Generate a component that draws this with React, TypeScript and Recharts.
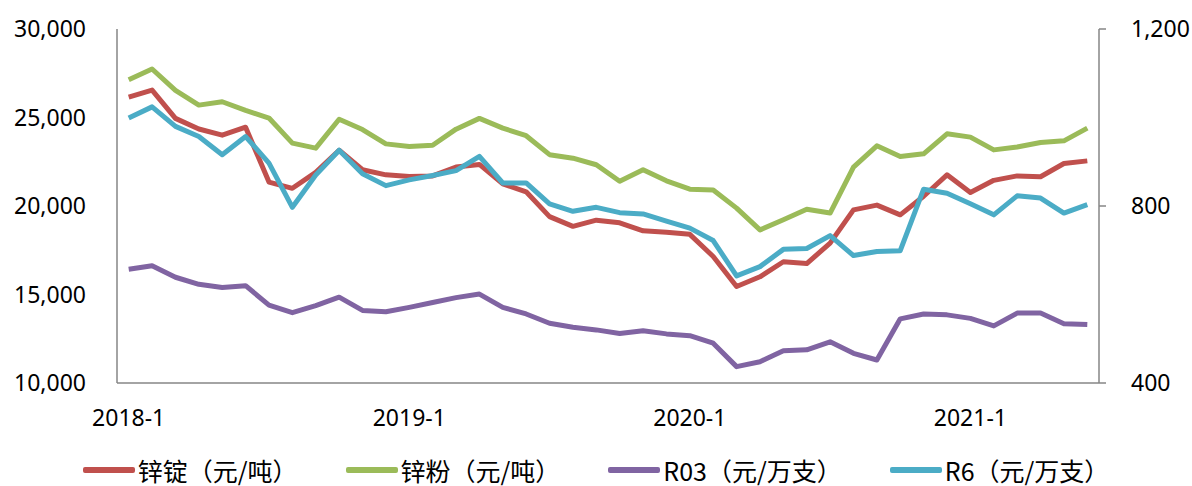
import { LineChart, Line, XAxis, YAxis, Legend } from 'recharts'

const months = [
  '2018-1', '2018-2', '2018-3', '2018-4', '2018-5', '2018-6', '2018-7', '2018-8', '2018-9', '2018-10', '2018-11', '2018-12',
  '2019-1', '2019-2', '2019-3', '2019-4', '2019-5', '2019-6', '2019-7', '2019-8', '2019-9', '2019-10', '2019-11', '2019-12',
  '2020-1', '2020-2', '2020-3', '2020-4', '2020-5', '2020-6', '2020-7', '2020-8', '2020-9', '2020-10', '2020-11', '2020-12',
  '2021-1', '2021-2', '2021-3', '2021-4', '2021-5', '2021-6',
]

// 锌锭（元/吨）
const zincIngot = [
  26150, 26550, 24950, 24350, 24000, 24450, 21350, 21000, 21900, 23150, 22050, 21760,
  21670, 21700, 22200, 22350, 21250, 20800, 19400, 18850, 19200, 19050, 18600, 18520,
  18400, 17150, 15450, 16000, 16850, 16750, 17900, 19780, 20050, 19500, 20550, 21760,
  20760, 21450, 21700, 21650, 22400, 22550,
]

// 锌粉（元/吨）
const zincPowder = [
  27130, 27740, 26530, 25700, 25890, 25400, 24970, 23550, 23270, 24900, 24320, 23510,
  23360, 23430, 24340, 24950, 24400, 23970, 22900, 22700, 22330, 21400, 22050, 21420,
  20950, 20900, 19880, 18650, 19220, 19820, 19600, 22200, 23400, 22800, 22950, 24080,
  23890, 23170, 23330, 23590, 23680, 24400,
]

// R03（元/万支）
const r03 = [
  657, 665, 639, 623, 616, 620, 576, 559, 575, 594, 564, 561,
  571, 582, 593, 601, 571, 556, 535, 526, 520, 512, 518, 511,
  507, 490, 437, 448, 473, 475, 493, 467, 452, 545, 556, 554,
  546, 529, 558, 558, 534, 532,
]

// R6（元/万支）
const r6 = [
  999, 1024, 980, 957, 916, 957, 897, 797, 870, 926, 873, 846,
  859, 869, 880, 912, 852, 852, 805, 788, 797, 785, 782, 766,
  750, 722, 642, 663, 702, 704, 733, 688, 697, 699, 838, 829,
  805, 780, 823, 818, 784, 803,
]

const leftTicks = [10000, 15000, 20000, 25000, 30000]
const rightTicks = [400, 800, 1200]

const series = [
  { key: 'ingot', name: '锌锭（元/吨）', color: '#C0504D', axis: 'left' },
  { key: 'powder', name: '锌粉（元/吨）', color: '#9BBB59', axis: 'left' },
  { key: 'r03', name: 'R03（元/万支）', color: '#8064A2', axis: 'right' },
  { key: 'r6', name: 'R6（元/万支）', color: '#4BACC6', axis: 'right' },
]

const data = months.map((month, i) => ({
  month,
  ingot: zincIngot[i],
  powder: zincPowder[i],
  r03: r03[i],
  r6: r6[i],
}))

const axisColor = '#868686'
const tickStyle = { fontSize: 23, fill: '#000', fontFamily: '"Noto Sans", sans-serif' }

function fmt(v: number) {
  return v.toLocaleString('en-US')
}

function ChartLegend() {
  return (
    <div
      style={{
        display: 'flex',
        justifyContent: 'center',
        alignItems: 'center',
        gap: 48,
        height: 30,
        fontFamily: '"Noto Sans CJK SC", sans-serif',
        fontSize: 25,
        lineHeight: '30px',
        whiteSpace: 'nowrap',
        color: '#000',
      }}
    >
      {series.map((s) => (
        <div key={s.key} style={{ display: 'flex', alignItems: 'center' }}>
          <span
            style={{
              display: 'inline-block',
              width: 52,
              height: 6,
              borderRadius: 2,
              background: s.color,
              marginRight: 3,
            }}
          />
          <span>{s.name}</span>
        </div>
      ))}
    </div>
  )
}

export default function App() {
  return (
    <div style={{ position: 'absolute', left: 0, top: 0, width: 1192, height: 486, background: '#fff' }}>
      <LineChart
        width={1192}
        height={486}
        data={data}
        margin={{ top: 29, right: 13, left: 17, bottom: 63 }}
      >
        <XAxis
          dataKey="month"
          interval={11}
          padding={{ left: 11.7, right: 11.7 }}
          tick={tickStyle}
          tickLine={false}
          tickSize={0}
          tickMargin={27}
          height={40}
          axisLine={{ stroke: axisColor, strokeWidth: 1.5 }}
        />
        <YAxis
          yAxisId="left"
          orientation="left"
          domain={[10000, 30000]}
          ticks={leftTicks}
          tickFormatter={fmt}
          tick={tickStyle}
          tickLine={false}
          tickSize={0}
          tickMargin={31}
          width={100}
          axisLine={{ stroke: axisColor, strokeWidth: 1.5 }}
        />
        <YAxis
          yAxisId="right"
          orientation="right"
          domain={[400, 1200]}
          ticks={rightTicks}
          tickFormatter={fmt}
          tick={{ ...tickStyle, textAnchor: 'start' }}
          tickLine={{ stroke: axisColor, strokeWidth: 1.5 }}
          tickSize={7}
          tickMargin={25}
          width={80}
          axisLine={{ stroke: axisColor, strokeWidth: 1.5 }}
        />
        <Legend
          layout="horizontal"
          verticalAlign="middle"
          align="center"
          content={() => <ChartLegend />}
          wrapperStyle={{ top: 455, left: 0, width: 1192, height: 30 }}
        />
        {series.map((s) => (
          <Line
            key={s.key}
            yAxisId={s.axis}
            type="linear"
            dataKey={s.key}
            name={s.name}
            stroke={s.color}
            strokeWidth={5}
            strokeLinejoin="round"
            dot={false}
            activeDot={false}
            isAnimationActive={false}
          />
        ))}
      </LineChart>
    </div>
  )
}
